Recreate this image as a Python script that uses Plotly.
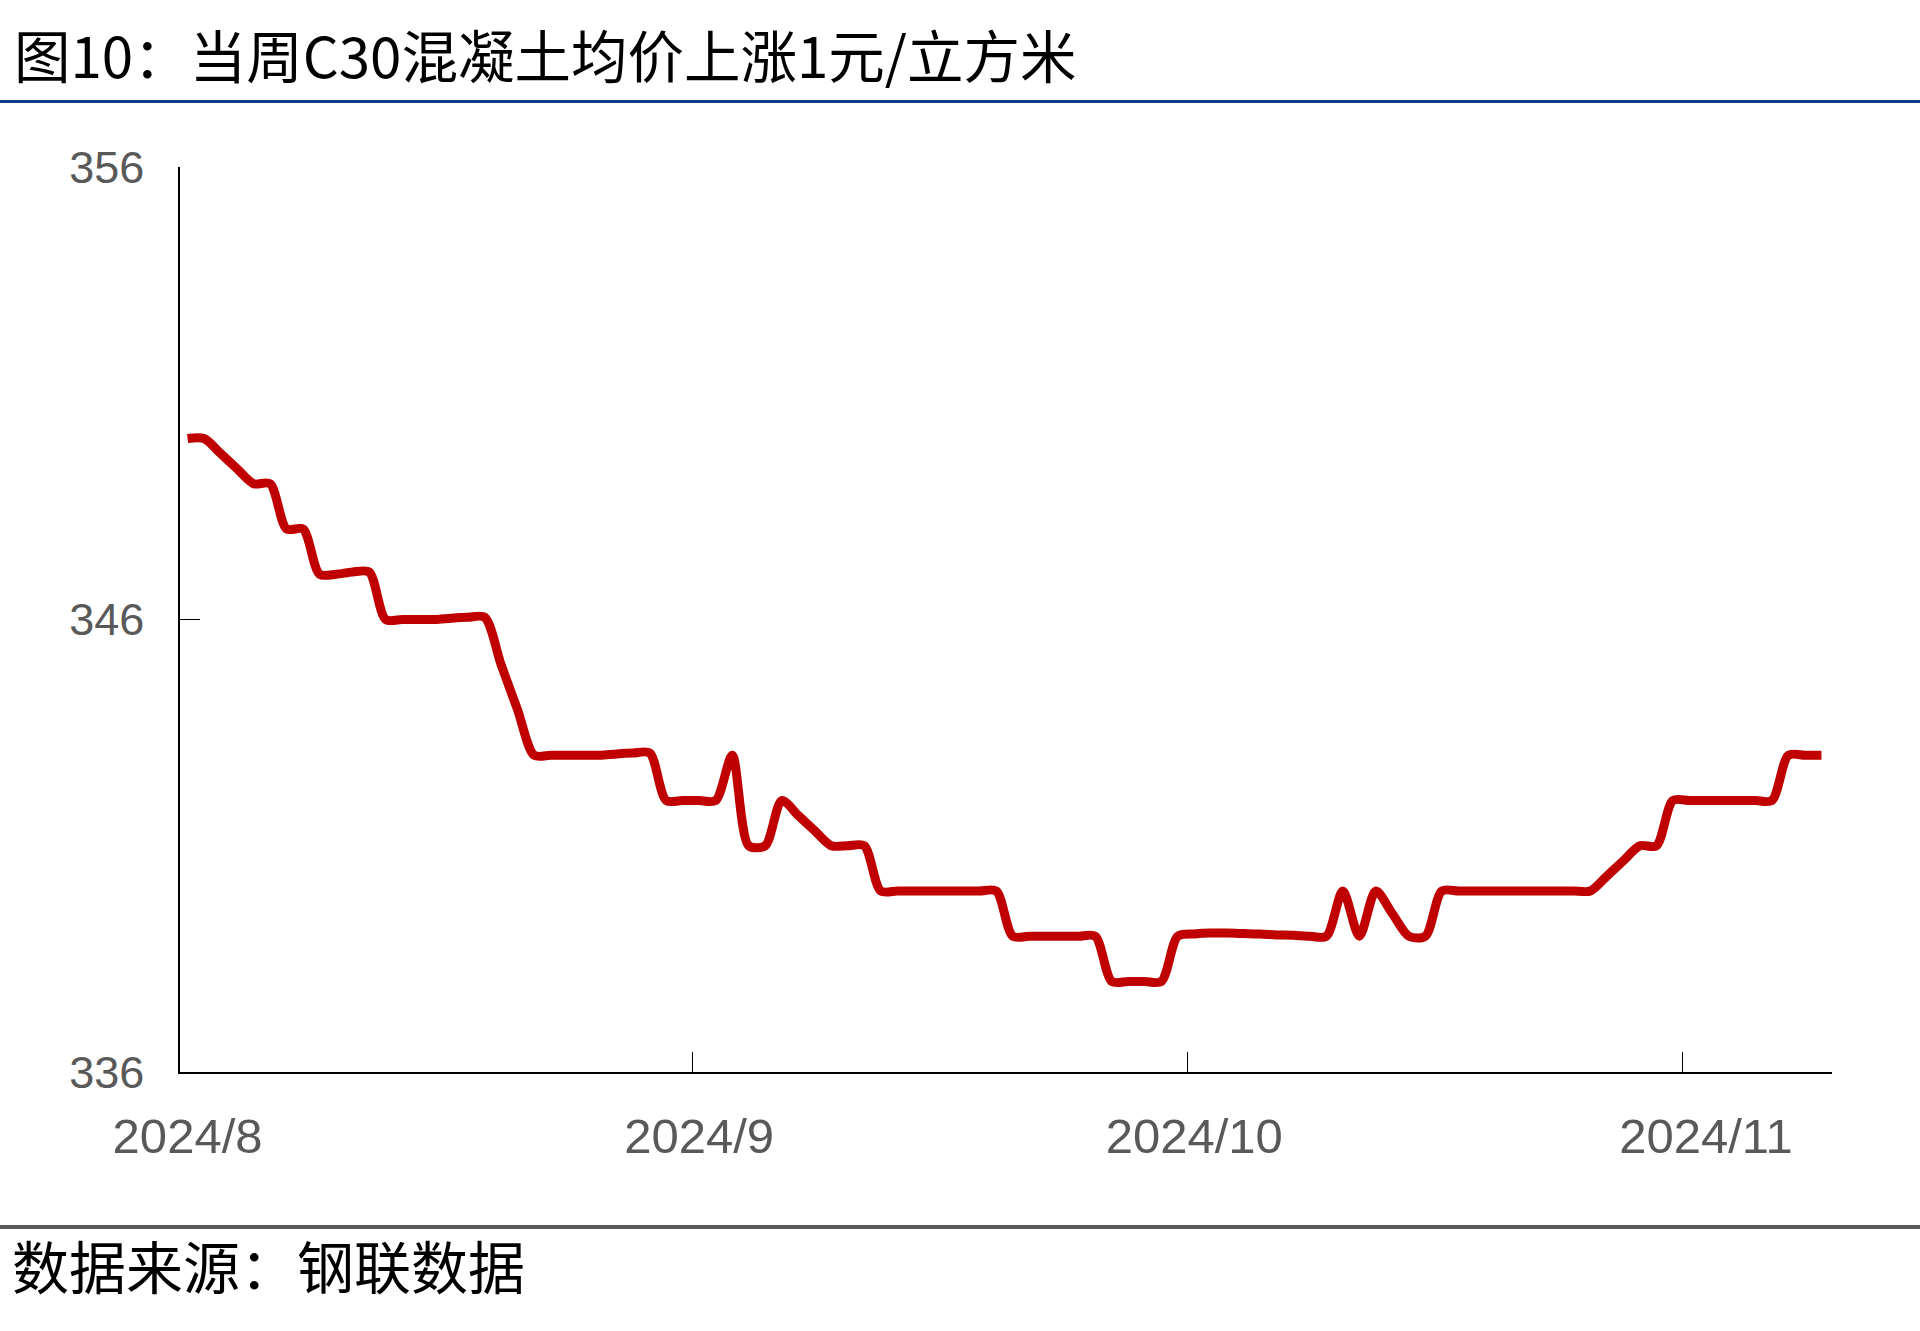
import pandas as pd
import plotly.graph_objects as go

# ---- data (daily C30 concrete average price, yuan / m3) ----
aug_values = [350, 350, 349.67, 349.33, 349, 349, 348, 348, 347, 347,
              347.05, 347.05, 346, 346, 346, 346, 346.03, 346.05, 346.05, 345,
              344, 343, 343, 343, 343, 343, 343.03, 343.05, 343.05, 342, 342]
sep_values = [342, 342, 343, 341, 341, 342, 341.67, 341.33, 341, 341,
              341, 340, 340, 340, 340, 340, 340, 340, 340, 339,
              339, 339, 339, 339, 339, 338, 338, 338, 338, 339]
oct_values = [339.05, 339.07, 339.07, 339.06, 339.05, 339.03, 339.02, 339, 339, 340,
              339, 340, 339.5, 339, 339, 340, 340, 340, 340, 340,
              340, 340, 340, 340, 340, 340.33, 340.67, 341, 341, 342, 342]
nov_values = [342, 342, 342, 342, 342, 343, 343, 343]

start_date = "2024-08-01"
tick_dates = ["2024-08-01", "2024-09-01", "2024-10-01", "2024-11-01"]
tick_labels = ["2024/8", "2024/9", "2024/10", "2024/11"]
tick_marks = ["2024-08-31 14:30", "2024-09-30 14:30", "2024-10-30 14:30"]
y_ticks = [336, 346, 356]

title_text = "图10：当周C30混凝土均价上涨1元/立方米"
source_text = "数据来源：钢联数据"

values = aug_values + sep_values + oct_values + nov_values
dates = pd.date_range(start_date, periods=len(values), freq="D")

# ---- layout geometry ----
W, H = 1920, 1331
ML, MR, MT, MB = 180, 88, 167, 259
PW, PH = W - ML - MR, H - MT - MB


def px_x(px):
    return (px - ML) / PW


def px_y(py):
    return (H - MB - py) / PH


fig = go.Figure()
fig.add_trace(go.Scatter(
    x=dates, y=values, mode="lines",
    line=dict(color="#C00000", width=9, shape="spline", smoothing=0.8),
    hoverinfo="skip", showlegend=False,
))

x_font = dict(family="Liberation Sans, Arial, sans-serif", size=49, color="#595959")
y_font = dict(family="Liberation Sans, Arial, sans-serif", size=45, color="#595959")

fig.update_layout(
    width=W, height=H,
    margin=dict(l=ML, r=MR, t=MT, b=MB),
    paper_bgcolor="white", plot_bgcolor="white",
    showlegend=False,
    xaxis=dict(
        type="date",
        range=["2024-07-31 13:00", "2024-11-08 15:20"],
        tickmode="array", tickvals=tick_dates, ticktext=tick_labels,
        ticks="", showgrid=False, zeroline=False,
        showline=True, linecolor="black", linewidth=1.5,
        tickfont=x_font, ticklabelstandoff=20,
        minor=dict(tickmode="array", tickvals=tick_marks, ticks="inside",
                   ticklen=20, tickwidth=1.3, tickcolor="black", showgrid=False),
    ),
    yaxis=dict(
        range=[336, 356], tickmode="array", tickvals=y_ticks,
        ticks="inside", ticklen=20, tickwidth=1.3, tickcolor="black",
        showgrid=False, zeroline=False,
        showline=True, linecolor="black", linewidth=1.5,
        tickfont=y_font, ticklabelstandoff=25,
    ),
)

# header / footer rules
fig.add_shape(type="line", xref="paper", yref="paper",
              x0=px_x(0), x1=px_x(W), y0=px_y(101.5), y1=px_y(101.5),
              line=dict(color="#0C3B87", width=3))
fig.add_shape(type="line", xref="paper", yref="paper",
              x0=px_x(0), x1=px_x(W), y0=px_y(1227), y1=px_y(1227),
              line=dict(color="#595959", width=4))

fig.add_annotation(text=title_text, xref="paper", yref="paper",
                   x=px_x(12), y=px_y(53), xanchor="left", yanchor="middle",
                   showarrow=False,
                   font=dict(family="Noto Sans CJK SC", size=56.5, color="black"))
fig.add_annotation(text=source_text, xref="paper", yref="paper",
                   x=px_x(10), y=px_y(1264), xanchor="left", yanchor="middle",
                   showarrow=False,
                   font=dict(family="Noto Sans CJK SC", size=57, color="black"))

fig.write_html("out.html", config={"displayModeBar": False})

# remove the default 8px page margin so the figure sits at the window origin
with open("out.html", encoding="utf-8") as f:
    html = f.read()
html = html.replace("<body>", '<body style="margin:0;overflow:hidden">', 1)
with open("out.html", "w", encoding="utf-8") as f:
    f.write(html)
